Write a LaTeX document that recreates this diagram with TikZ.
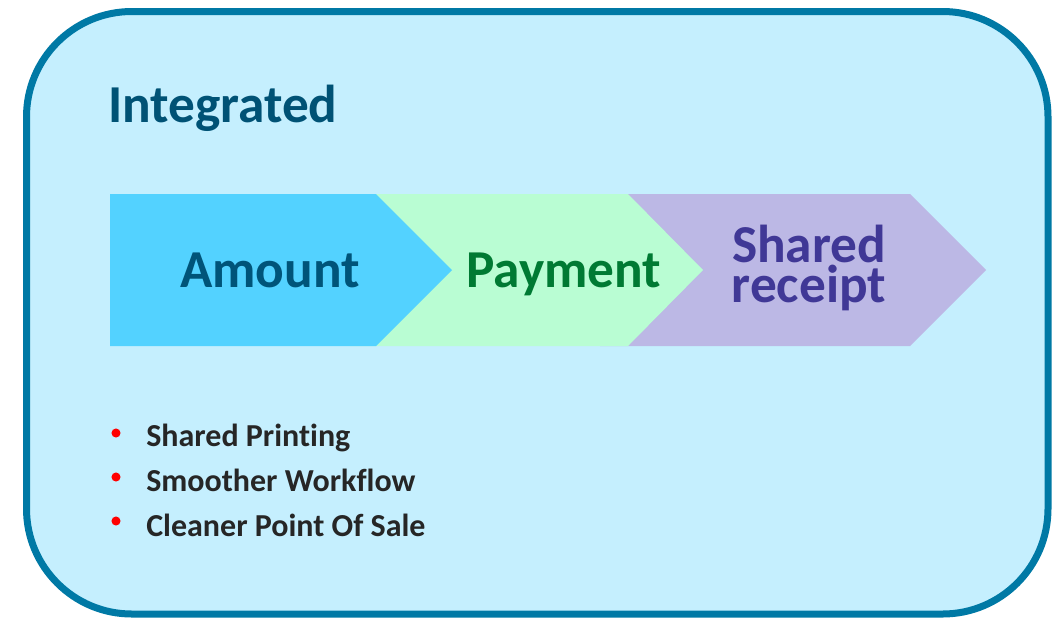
\documentclass[tikz,border=0pt]{standalone}
\usepackage{fontspec}
\setmainfont[Ligatures=NoCommon]{Carlito}
\begin{document}
\begin{tikzpicture}[x=0.75pt,y=-0.75pt,
  big/.style={font=\bfseries\fontsize{40}{29.5}\selectfont, inner sep=0pt},
  item/.style={anchor=base west, font=\bfseries\fontsize{24}{28}\selectfont, text=item text, inner sep=0pt},
  dot/.style={fill=red, circle, inner sep=0pt, minimum size=6.8pt}]

\definecolor{frame line}{HTML}{0079A5}
\definecolor{frame area}{HTML}{C5EFFE}
\definecolor{title text}{HTML}{005275}
\definecolor{amount area}{HTML}{53D2FF}
\definecolor{amount text}{HTML}{005479}
\definecolor{payment area}{HTML}{B9FDD3}
\definecolor{payment text}{HTML}{007A33}
\definecolor{receipt area}{HTML}{BCB8E5}
\definecolor{receipt text}{HTML}{403896}
\definecolor{item text}{HTML}{262626}

\def\amountarrow{(110,194) -- (376,194) -- (452,270) -- (376,346) -- (110,346) -- cycle}
\def\paymentarrow{(350,194) -- (628,194) -- (703,270) -- (628,346) -- (350,346) -- cycle}
\def\receiptarrow{(600,194) -- (910,194) -- (986,270) -- (910,346) -- (600,346) -- cycle}

\useasboundingbox (0,0) rectangle (1059,619);
\draw[line width=5.25pt, draw=frame line, fill=frame area, rounded corners=79pt]
  (26.5,11.5) rectangle (1048,614);

\node[big, anchor=base west, text=title text] (title) at (108,122) {Integrated};

% steps, back to front
\fill[receipt area] \receiptarrow;
\fill[payment area] \paymentarrow;
\fill[amount area] \amountarrow;

\node[big, anchor=base, text=amount text] (amount) at (270,287) {Amount};
\node[big, anchor=base, text=payment text] (payment) at (564,287) {Payment};
\node[big, anchor=base, align=center, text=receipt text] (receipt) at (809,302) {Shared\\receipt};

% benefits
\node[item] (printing) at (146,446) {Shared Printing};
\node[item] (workflow) at (146,491) {Smoother Workflow};
\node[item] (sale) at (146,536) {Cleaner Point Of Sale};
\node[dot] (dot1) at (116,433) {};
\node[dot] (dot2) at (116,477) {};
\node[dot] (dot3) at (116,521) {};
\end{tikzpicture}
\end{document}
